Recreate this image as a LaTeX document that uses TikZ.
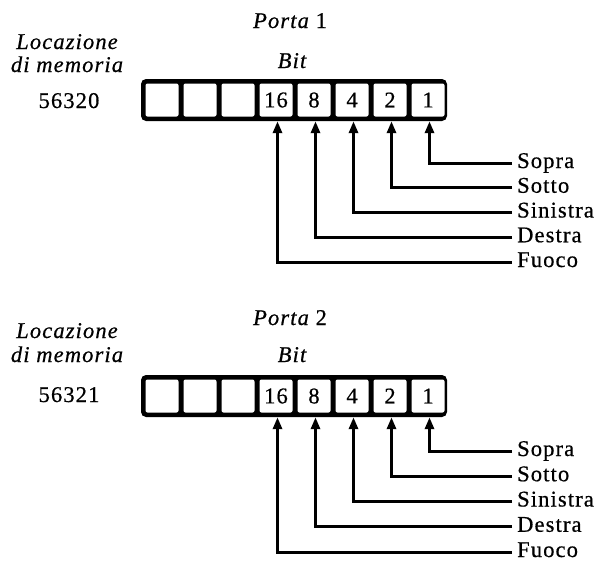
\documentclass[tikz,border=0pt]{standalone}
\usepackage{fontspec}
\setmainfont{Liberation Serif}[LetterSpace=5,FakeBold=0.6]
\usetikzlibrary{arrows.meta}
\begin{document}
\begin{tikzpicture}[x=1pt,y=-1pt,
  txt/.style={font=\fontsize{22.5}{26}\selectfont, inner sep=0pt},
  itx/.style={font=\fontsize{22.5}{26}\selectfont\itshape, inner sep=0pt},
  regframe/.style={fill=black, rounded corners=5pt, minimum width=306pt, minimum height=42pt, inner sep=0pt},
  cellbox/.style={fill=white, rounded corners=2pt, minimum width=33pt, minimum height=33pt, inner sep=0pt, font=\fontsize{22.5}{26}\selectfont},
  lab/.style={txt, anchor=west, inner xsep=5pt, text height=11pt, text depth=1pt},
  wire/.style={line width=3pt, -{Triangle[width=9pt,length=12pt]}}
]
\useasboundingbox (0,0) rectangle (605,563);
% panel index / porta baseline / bit baseline / Locazione baseline / memoria baseline / address baseline / frame centre / first wire / wire step / address
\foreach \p/\yp/\yb/\yl/\ym/\ya/\yf/\yw/\ds/\addr in {
  1/28/68/49/72/108/100/163/24.75/56320,
  2/325/362/338/362/402/396/451/25.25/56321}{
  \node[itx, anchor=base] (porta\p) at (290,\yp) {Porta \upshape\p};
  \node[itx, anchor=base] (bit\p) at (292,\yb) {Bit};
  \node[itx, anchor=base] (loc\p) at (67,\yl) {Locazione};
  \node[itx, anchor=base] (mem\p) at (67,\ym) {di memoria};
  \node[txt, anchor=base] (addr\p) at (69,\ya) {\addr};
  \node[regframe] (f\p) at (294,\yf) {};
  \foreach \k/\t in {1/,2/,3/,4/16,5/8,6/4,7/2,8/1}{
    \node[cellbox] (c\p-\k) at (162+38*\k-38,\yf) {\t};
  }
  \foreach \j/\t/\k in {1/Sopra/8,2/Sotto/7,3/Sinistra/6,4/Destra/5,5/Fuoco/4}{
    \node[lab] (l\p-\j) at (512,\yw+\ds*\j-\ds) {\t};
    \draw[wire] (l\p-\j.west) -| ([xshift=1.5pt]c\p-\k.south |- f\p.south);
  }
}
\end{tikzpicture}
\end{document}
